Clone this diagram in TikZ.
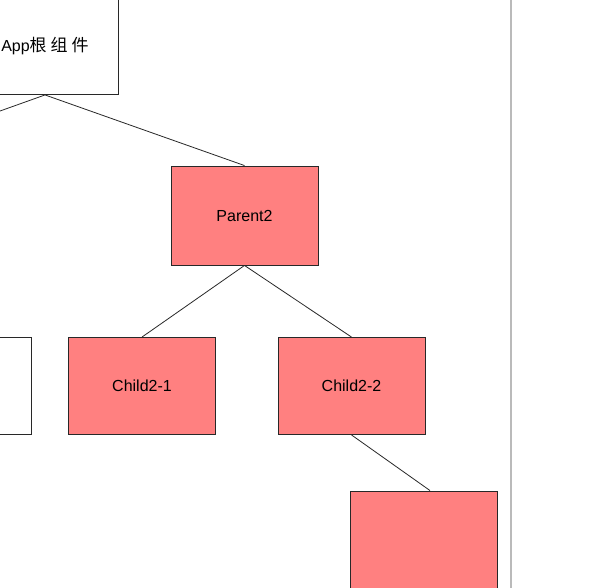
\documentclass[tikz,border=0pt]{standalone}
\usepackage{fontspec}
\setmainfont{Liberation Sans}
\newfontfamily\cjk{Noto Sans CJK SC}
\usetikzlibrary{calc}
\definecolor{boxred}{RGB}{255,128,128}
\definecolor{edgecol}{RGB}{40,40,40}
\tikzset{
  box/.style={draw=edgecol, line width=0.9pt, minimum width=147pt, minimum height=97pt, inner sep=0pt, font=\fontsize{16}{19}\selectfont},
  redbox/.style={box, fill=boxred},
  whitebox/.style={box, fill=white},
  conn/.style={draw=edgecol, line width=0.8pt}
}
\begin{document}
\begin{tikzpicture}[x=1pt,y=-1pt]
\useasboundingbox (0,0) rectangle (615,588);
\clip (0,0) rectangle (615,588);
\fill[white] (0,0) rectangle (615,588);
\draw[black!27, line width=2pt] (511,0) -- (511,588);
% nodes
\node[whitebox] (app) at (45,46) {App{\cjk\fontsize{17}{19}\selectfont 根\hspace{4pt}组\hspace{4pt}件}};
\coordinate (p1) at (-154,166);
\node[redbox, minimum height=99pt] (p2) at (244.5,215.5) {Parent2};
\node[whitebox] (c12) at (-42.5,386) {};
\node[redbox] (c21) at (142,386) {Child2-1};
\node[redbox] (c22) at (351.5,386) {Child2-2};
\node[redbox] (b) at (424,539.5) {};
% connectors
\draw[conn] (app.south) -- (p1);
\draw[conn] (app.south) -- (p2.north);
\draw[conn] (p2.south) -- (c21.north);
\draw[conn] (p2.south) -- (c22.north);
\draw[conn] (c22.south) -- ($(b.north)+(6,0)$);
\end{tikzpicture}
\end{document}
